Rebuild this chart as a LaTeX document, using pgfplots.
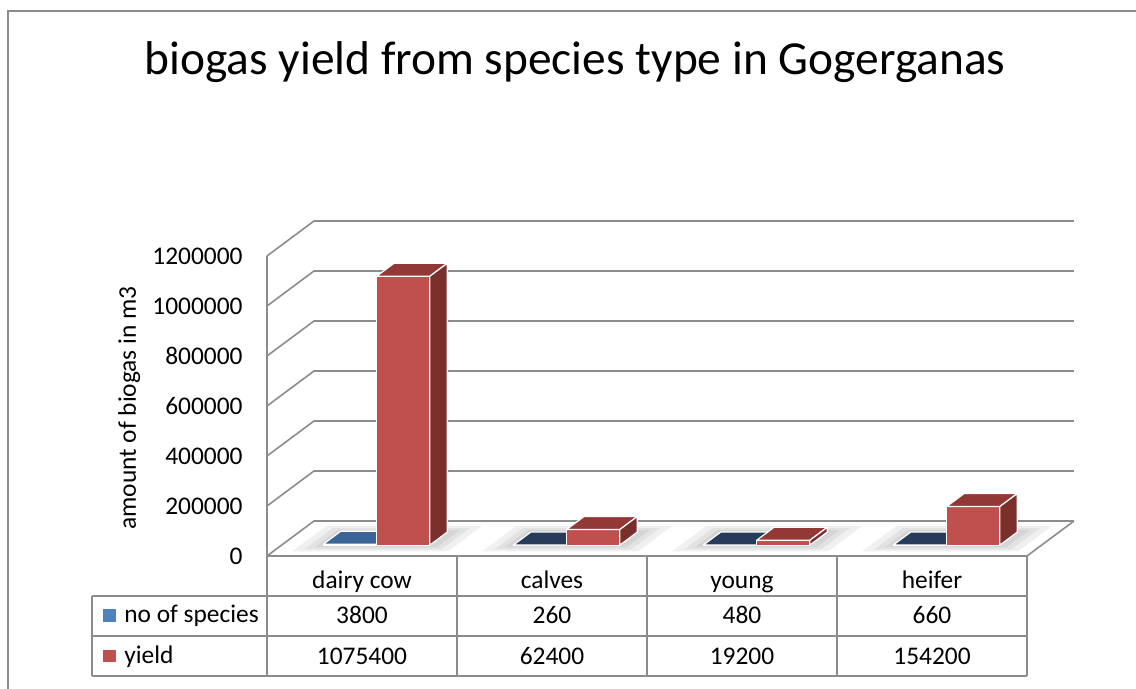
\documentclass[border=0pt]{standalone}
\usepackage{pgfplots}
\pgfplotsset{compat=1.18}
\usepackage{fontspec}
\setmainfont{Carlito}
\definecolor{gridgray}{RGB}{140,140,140}
\definecolor{bfront}{RGB}{79,129,189}
\definecolor{btopA}{RGB}{58,101,150}
\definecolor{btop}{RGB}{38,60,90}
\definecolor{bside}{RGB}{44,72,108}
\definecolor{rfront}{RGB}{192,80,77}
\definecolor{rtop}{RGB}{146,56,54}
\definecolor{rside}{RGB}{122,47,45}
\newcommand\cuboid[6]{%
  \addplot3[fill=#4,draw=white,line width=0.6pt,line join=round] coordinates {(#1,0.31,0) (#2,0.31,0) (#2,0.31,#3) (#1,0.31,#3)} -- cycle;
  \addplot3[fill=#5,draw=white,line width=0.6pt,line join=round] coordinates {(#1,0.31,#3) (#2,0.31,#3) (#2,0.68,#3) (#1,0.68,#3)} -- cycle;
  \addplot3[fill=#6,draw=white,line width=0.6pt,line join=round] coordinates {(#2,0.31,0) (#2,0.68,0) (#2,0.68,#3) (#2,0.31,#3)} -- cycle;
}
\newcommand\shadowlayer[4]{%
  \addplot3[fill=black,fill opacity=0.06,draw=none] coordinates {(#1,#3,0) (#2,#3,0) (#2,#4,0) (#1,#4,0)} -- cycle;
}
\newcommand\sm{\fontsize{12.7}{15}\selectfont}
\begin{document}
\begin{tikzpicture}
\begin{axis}[
  hide axis, clip=false,
  x={(95pt,0pt)}, y={(23.5pt,17.5pt)}, z={(0pt,0.125pt)},
  z coord trafo/.code={\begingroup\pgfkeys{/pgf/fpu=true,/pgf/fpu/output format=fixed}\pgfmathparse{#1/1000}\xdef\zres{\pgfmathresult}\endgroup\let\pgfmathresult\zres},
  xmin=0,xmax=4,ymin=0,ymax=1,zmin=0,zmax=1200000,
]
% walls and grid
\addplot3[gridgray,line width=0.8pt] coordinates {(0,0,0) (0,1,0) (4,1,0)};
\addplot3[gridgray,line width=0.8pt] coordinates {(0,0,200000) (0,1,200000) (4,1,200000)};
\addplot3[gridgray,line width=0.8pt] coordinates {(0,0,400000) (0,1,400000) (4,1,400000)};
\addplot3[gridgray,line width=0.8pt] coordinates {(0,0,600000) (0,1,600000) (4,1,600000)};
\addplot3[gridgray,line width=0.8pt] coordinates {(0,0,800000) (0,1,800000) (4,1,800000)};
\addplot3[gridgray,line width=0.8pt] coordinates {(0,0,1000000) (0,1,1000000) (4,1,1000000)};
\addplot3[gridgray,line width=0.8pt] coordinates {(0,0,1200000) (0,1,1200000) (4,1,1200000)};
\addplot3[gridgray,line width=0.8pt] coordinates {(0,0,0) (0,0,1200000)};
\addplot3[gridgray,line width=0.8pt] coordinates {(0,0,0) (4,0,0) (4,1,0)};
% soft floor shadows
\shadowlayer{0.10}{0.92}{0.13}{0.86}\shadowlayer{0.15}{0.87}{0.19}{0.80}\shadowlayer{0.19}{0.83}{0.25}{0.74}
\shadowlayer{1.10}{1.92}{0.13}{0.86}\shadowlayer{1.15}{1.87}{0.19}{0.80}\shadowlayer{1.19}{1.83}{0.25}{0.74}
\shadowlayer{2.10}{2.92}{0.13}{0.86}\shadowlayer{2.15}{2.87}{0.19}{0.80}\shadowlayer{2.19}{2.83}{0.25}{0.74}
\shadowlayer{3.10}{3.92}{0.13}{0.86}\shadowlayer{3.15}{3.87}{0.19}{0.80}\shadowlayer{3.19}{3.83}{0.25}{0.74}
% bars: no of species (blue) and yield (red)
\cuboid{0.22}{0.50}{3800}{bfront}{btopA}{bside}
\cuboid{0.50}{0.78}{1075400}{rfront}{rtop}{rside}
\cuboid{1.22}{1.50}{260}{bfront}{btop}{bside}
\cuboid{1.50}{1.78}{62400}{rfront}{rtop}{rside}
\cuboid{2.22}{2.50}{480}{bfront}{btop}{bside}
\cuboid{2.50}{2.78}{19200}{rfront}{rtop}{rside}
\cuboid{3.22}{3.50}{660}{bfront}{btop}{bside}
\cuboid{3.50}{3.78}{154200}{rfront}{rtop}{rside}
% tick labels
\node[anchor=east,font=\sm,inner sep=0pt] at (axis cs:0,0,0) [xshift=-12pt] {0};
\node[anchor=east,font=\sm,inner sep=0pt] at (axis cs:0,0,200000) [xshift=-12pt] {200000};
\node[anchor=east,font=\sm,inner sep=0pt] at (axis cs:0,0,400000) [xshift=-12pt] {400000};
\node[anchor=east,font=\sm,inner sep=0pt] at (axis cs:0,0,600000) [xshift=-12pt] {600000};
\node[anchor=east,font=\sm,inner sep=0pt] at (axis cs:0,0,800000) [xshift=-12pt] {800000};
\node[anchor=east,font=\sm,inner sep=0pt] at (axis cs:0,0,1000000) [xshift=-12pt] {1000000};
\node[anchor=east,font=\sm,inner sep=0pt] at (axis cs:0,0,1200000) [xshift=-12pt] {1200000};
% pixel-space layer
\begin{scope}[shift={(axis cs:0,0,0)}, x=0.5pt, y=-0.5pt, shift={(-267,-556)}]
  \coordinate (TL) at (0,0);
  \coordinate (BR) at (1136,689);
  \draw[gridgray,line width=0.7pt] (8,700) -- (8,11) -- (1150,11);
  \node[anchor=base,inner sep=0pt,font=\fontsize{23.7}{28}\selectfont] at (575,75) {biogas yield from species type in Gogerganas};
  \node[anchor=base,rotate=90,inner sep=0pt,font=\sm] at (136,408) {amount of biogas in m3};
  % table
  \draw[gridgray,line width=0.8pt] (92,596) -- (1027,596) (92,636) -- (1027,636) (92,676) -- (1027,676);
  \draw[gridgray,line width=0.8pt] (92,596) -- (92,676);
  \draw[gridgray,line width=0.8pt] (267,556) -- (267,676) (457,556) -- (457,676) (647,556) -- (647,676) (837,556) -- (837,676) (1027,556) -- (1027,676);
  \node[anchor=base,inner sep=0pt,font=\sm] at (362,589) {dairy cow};
  \node[anchor=base,inner sep=0pt,font=\sm] at (552,589) {calves};
  \node[anchor=base,inner sep=0pt,font=\sm] at (742,589) {young};
  \node[anchor=base,inner sep=0pt,font=\sm] at (932,589) {heifer};
  \node[anchor=base,inner sep=0pt,font=\sm] at (362,624) {3800};
  \node[anchor=base,inner sep=0pt,font=\sm] at (552,624) {260};
  \node[anchor=base,inner sep=0pt,font=\sm] at (742,624) {480};
  \node[anchor=base,inner sep=0pt,font=\sm] at (932,624) {660};
  \node[anchor=base,inner sep=0pt,font=\sm] at (362,665) {1075400};
  \node[anchor=base,inner sep=0pt,font=\sm] at (552,665) {62400};
  \node[anchor=base,inner sep=0pt,font=\sm] at (742,665) {19200};
  \node[anchor=base,inner sep=0pt,font=\sm] at (932,665) {154200};
  \fill[bfront] (103,609) rectangle (115.7,621.7);
  \fill[rfront] (103,650.5) rectangle (115.7,662.5);
  \node[anchor=base west,inner sep=0pt,font=\sm] at (124,623) {no of species};
  \node[anchor=base west,inner sep=0pt,font=\sm] at (124,664) {yield};
\end{scope}
\end{axis}
\pgfresetboundingbox
\useasboundingbox (TL) rectangle (BR);
\end{tikzpicture}
\end{document}
